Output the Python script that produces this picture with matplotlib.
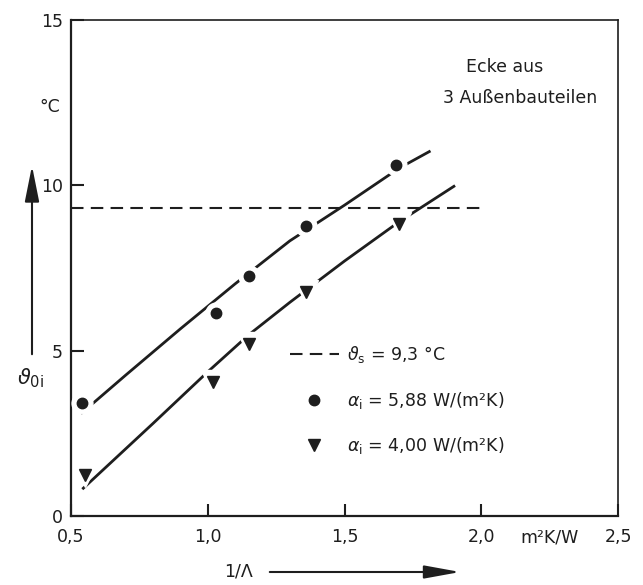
import matplotlib
matplotlib.use('Agg')
import matplotlib.pyplot as plt

plt.rcParams['font.family'] = ['DejaVu Sans']
plt.rcParams['mathtext.fontset'] = 'dejavusans'

INK = '#1e1e1e'

x_588 = [0.54, 1.03, 1.15, 1.36, 1.69]
y_588 = [3.41, 6.15, 7.27, 8.77, 10.61]

x_400 = [0.55, 1.02, 1.15, 1.36, 1.70]
y_400 = [1.25, 4.06, 5.20, 6.78, 8.82]

# Ausgleichskurven (von Hand gezeichnet)
fit_588_x = [0.54, 0.70, 0.90, 1.10, 1.30, 1.50, 1.70, 1.81]
fit_588_y = [3.12, 4.26, 5.66, 7.02, 8.32, 9.40, 10.52, 11.02]

fit_400_x = [0.545, 0.80, 1.00, 1.15, 1.30, 1.50, 1.70, 1.90]
fit_400_y = [0.84, 2.80, 4.36, 5.48, 6.46, 7.71, 8.90, 9.97]

# Taupunkttemperatur
theta_s = 9.3
theta_s_range = [0.5, 2.0]

x_ticks = [0.5, 1.0, 1.5, 2.0, 2.5]
x_ticklabels = ['0,5', '1,0', '1,5', '2,0', '2,5']
y_ticks = [0, 5, 10, 15]
y_ticklabels = ['0', '5', '10', '15']

fig = plt.figure(figsize=(6.43, 5.85), dpi=100)
fig.patch.set_facecolor('white')
ax = fig.add_axes([71/643, 69/585, 547/643, 496/585])
ax.set_xlim(0.5, 2.5)
ax.set_ylim(0, 15)

# Kurven
ax.plot(fit_588_x, fit_588_y, color=INK, lw=2.0, zorder=2)
ax.plot(fit_400_x, fit_400_y, color=INK, lw=2.0, zorder=2)

# weisse Aussparung um die Punkte
ax.plot(x_588, y_588, ls='none', marker='o', ms=15, mfc='white', mec='white', zorder=3)
ax.plot(x_400, y_400, ls='none', marker='v', ms=17, mfc='white', mec='white', zorder=3)

h_ts = ax.hlines(theta_s, theta_s_range[0], theta_s_range[1], colors=INK, lw=1.5,
                 linestyles=(0, (6, 3.5)), zorder=5)
h_588, = ax.plot(x_588, y_588, ls='none', marker='o', ms=7.5, color=INK, zorder=4)
h_400, = ax.plot(x_400, y_400, ls='none', marker='v', ms=8.5, color=INK, zorder=4)

# Achsen
for side in ['left', 'bottom']:
    ax.spines[side].set_linewidth(1.6)
for side in ['top', 'right']:
    ax.spines[side].set_linewidth(1.2)
for s in ax.spines.values():
    s.set_color(INK)

ax.set_xticks(x_ticks, labels=x_ticklabels)
ax.set_yticks(y_ticks, labels=y_ticklabels)
ax.tick_params(direction='in', length=9, width=1.5, color=INK,
               labelsize=12.5, labelcolor=INK)
ax.tick_params(axis='x', pad=9)
ax.tick_params(axis='y', pad=6)
ax.set_xticks([2.25], labels=['m²K/W'], minor=True)
ax.tick_params(axis='x', which='minor', length=0, pad=9, labelsize=12.5, labelcolor=INK)

# Beschriftung
ax.text(2.087, 13.58, 'Ecke aus', ha='center', va='center', fontsize=12.5, color=INK)
ax.text(2.142, 12.64, '3 Außenbauteilen', ha='center', va='center', fontsize=12.5, color=INK)

fig.text(50/643, 1 - 107/585, '°C', ha='center', va='center', fontsize=12.5, color=INK)
fig.text(30/643, 1 - 378/585, r'$\vartheta_{\mathrm{0i}}$', ha='center', va='center',
         fontsize=15, color=INK)
fig.text(238/643, 1 - 572/585, '1/Λ', ha='center', va='center', fontsize=12.5, color=INK)

ax.annotate('', xy=(32/643, 1 - 163/585), xytext=(32/643, 1 - 357/585),
            xycoords='figure fraction', textcoords='figure fraction',
            arrowprops=dict(arrowstyle='-|>,head_length=1.1,head_width=0.22',
                            mutation_scale=20, color=INK, lw=1.5))
ax.annotate('', xy=(463/643, 1 - 572/585), xytext=(267/643, 1 - 572/585),
            xycoords='figure fraction', textcoords='figure fraction',
            arrowprops=dict(arrowstyle='-|>,head_length=1.1,head_width=0.2',
                            mutation_scale=20, color=INK, lw=1.5))

leg = ax.legend([h_ts, h_588, h_400],
                [r'$\vartheta_{\mathrm{s}}$ = 9,3 °C',
                 r'$\alpha_{\mathrm{i}}$ = 5,88 W/(m²K)',
                 r'$\alpha_{\mathrm{i}}$ = 4,00 W/(m²K)'],
                loc='upper left', bbox_to_anchor=((290 - 71)/547, (516 - 344)/496),
                frameon=False, fontsize=12.5, handlelength=2.8, handletextpad=0.5,
                labelspacing=1.42, borderpad=0, borderaxespad=0, numpoints=1)
for t in leg.get_texts():
    t.set_color(INK)

fig.savefig('out.png', dpi=100, facecolor='white')
